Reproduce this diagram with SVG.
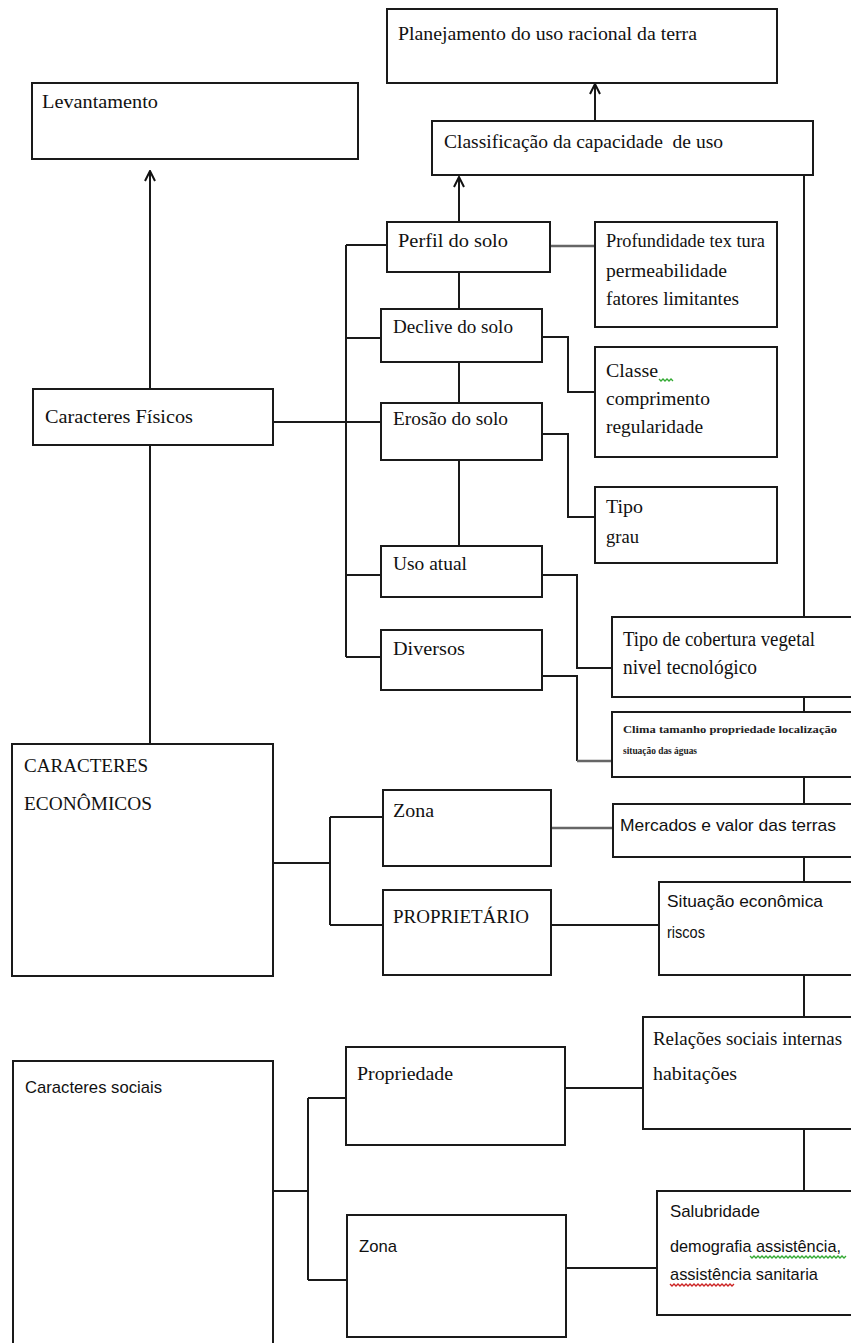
<svg xmlns="http://www.w3.org/2000/svg" width="851" height="1343" viewBox="0 0 851 1343">
<defs>
<marker id="arr" viewBox="0 0 12 12" refX="11" refY="6" markerWidth="12" markerHeight="12" markerUnits="userSpaceOnUse" orient="auto">
<path d="M1,1 L11,6 L1,11" fill="none" stroke="#111" stroke-width="2"/>
</marker>
<style>
.box{fill:#fff;stroke:#1a1a1a;stroke-width:2}
.ln{fill:none;stroke:#1a1a1a;stroke-width:2}
.gl{fill:none;stroke:#666;stroke-width:2.5}
.t{font-family:"Liberation Serif","DejaVu Serif",serif;font-size:19px;fill:#111}
.b{font-size:20px}
.s{font-family:"Liberation Sans","DejaVu Sans",sans-serif;font-size:17px;fill:#111}
.tiny{font-family:"Liberation Serif","DejaVu Serif",serif;font-size:11px;font-weight:bold;fill:#222}
.sq{fill:none;stroke-width:1.3}
</style>
</defs>
<rect width="851" height="1343" fill="#fff"/>

<g id="connectors">
<line class="ln" x1="595" y1="121" x2="595" y2="84" marker-end="url(#arr)"/>
<line class="ln" x1="459" y1="222" x2="459" y2="177" marker-end="url(#arr)"/>
<line class="ln" x1="150" y1="389" x2="150" y2="171" marker-end="url(#arr)"/>
<line class="ln" x1="150" y1="445" x2="150" y2="744"/>
<line class="ln" x1="273" y1="422" x2="381" y2="422"/>
<line class="ln" x1="346" y1="245" x2="346" y2="657"/>
<line class="ln" x1="346" y1="245" x2="387" y2="245"/>
<line class="ln" x1="346" y1="338" x2="381" y2="338"/>
<line class="ln" x1="346" y1="575" x2="381" y2="575"/>
<line class="ln" x1="346" y1="657" x2="381" y2="657"/>
<line class="ln" x1="459" y1="272" x2="459" y2="309"/>
<line class="ln" x1="459" y1="362" x2="459" y2="403"/>
<line class="ln" x1="459" y1="460" x2="459" y2="546"/>
<line class="gl" x1="550" y1="246" x2="595" y2="246"/>
<polyline class="ln" points="542,337 568,337 568,392 595,392"/>
<polyline class="ln" points="542,434 568,434 568,517 595,517"/>
<polyline class="ln" points="542,575 577,575 577,668 612,668"/>
<polyline class="ln" points="542,676 577,676 577,761"/>
<line class="gl" x1="577" y1="761" x2="612" y2="761"/>
<line class="ln" x1="804" y1="175" x2="804" y2="617"/>
<line class="ln" x1="804" y1="697" x2="804" y2="712"/>
<line class="ln" x1="804" y1="777" x2="804" y2="804"/>
<line class="ln" x1="804" y1="857" x2="804" y2="882"/>
<line class="ln" x1="804" y1="975" x2="804" y2="1017"/>
<line class="ln" x1="804" y1="1129" x2="804" y2="1191"/>
<line class="ln" x1="273" y1="863" x2="330" y2="863"/>
<line class="ln" x1="330" y1="817" x2="330" y2="925"/>
<line class="ln" x1="330" y1="817" x2="383" y2="817"/>
<line class="ln" x1="330" y1="925" x2="383" y2="925"/>
<line class="gl" x1="551" y1="828" x2="613" y2="828"/>
<line class="ln" x1="551" y1="925" x2="659" y2="925"/>
<line class="ln" x1="273" y1="1191" x2="308" y2="1191"/>
<line class="ln" x1="308" y1="1098" x2="308" y2="1280"/>
<line class="ln" x1="308" y1="1098" x2="346" y2="1098"/>
<line class="ln" x1="308" y1="1280" x2="347" y2="1280"/>
<line class="ln" x1="565" y1="1088" x2="643" y2="1088"/>
<line class="ln" x1="566" y1="1268" x2="657" y2="1268"/>
</g>

<g id="planejamento"><rect class="box" x="387" y="9" width="390" height="74"/><text class="t" x="398" y="40" textLength="299" lengthAdjust="spacingAndGlyphs">Planejamento do uso racional da terra</text></g>
<g id="classificacao"><rect class="box" x="432" y="121" width="381" height="54"/><text class="t" x="444" y="148" textLength="279" lengthAdjust="spacingAndGlyphs" xml:space="preserve">Classificação da capacidade  de uso</text></g>
<g id="levantamento"><rect class="box" x="32" y="83" width="326" height="76"/><text class="t" x="42" y="108" textLength="116" lengthAdjust="spacingAndGlyphs">Levantamento</text></g>
<g id="fisicos"><rect class="box" x="33" y="389" width="240" height="56"/><text class="t" x="45" y="423" textLength="148" lengthAdjust="spacingAndGlyphs">Caracteres Físicos</text></g>
<g id="perfil"><rect class="box" x="387" y="222" width="163" height="50"/><text class="t" x="398" y="247" textLength="110" lengthAdjust="spacingAndGlyphs">Perfil do solo</text></g>
<g id="profundidade"><rect class="box" x="595" y="222" width="182" height="105"/>
<text class="t" x="606" y="247" textLength="159" lengthAdjust="spacingAndGlyphs">Profundidade tex tura</text>
<text class="t" x="606" y="277" textLength="121" lengthAdjust="spacingAndGlyphs">permeabilidade</text>
<text class="t" x="606" y="305" textLength="133" lengthAdjust="spacingAndGlyphs">fatores limitantes</text></g>
<g id="declive"><rect class="box" x="381" y="309" width="161" height="53"/><text class="t" x="393" y="333" textLength="120" lengthAdjust="spacingAndGlyphs">Declive do solo</text></g>
<g id="classe"><rect class="box" x="595" y="347" width="182" height="110"/>
<text class="t" x="606" y="377" textLength="52" lengthAdjust="spacingAndGlyphs">Classe</text>
<path class="sq" stroke="#3a3" d="M659,379 l2,2 l2,-2 l2,2 l2,-2 l2,2 l2,-2 l2,2"/>
<text class="t" x="606" y="405" textLength="104" lengthAdjust="spacingAndGlyphs">comprimento</text>
<text class="t" x="606" y="433" textLength="97" lengthAdjust="spacingAndGlyphs">regularidade</text></g>
<g id="erosao"><rect class="box" x="381" y="403" width="161" height="57"/><text class="t" x="393" y="425" textLength="115" lengthAdjust="spacingAndGlyphs">Erosão do solo</text></g>
<g id="tipo"><rect class="box" x="595" y="487" width="182" height="76"/>
<text class="t" x="606" y="513" textLength="37" lengthAdjust="spacingAndGlyphs">Tipo</text>
<text class="t" x="606" y="543" textLength="33" lengthAdjust="spacingAndGlyphs">grau</text></g>
<g id="uso-atual"><rect class="box" x="381" y="546" width="161" height="51"/><text class="t" x="393" y="570" textLength="74" lengthAdjust="spacingAndGlyphs">Uso atual</text></g>
<g id="diversos"><rect class="box" x="381" y="630" width="161" height="60"/><text class="t" x="393" y="655" textLength="72" lengthAdjust="spacingAndGlyphs">Diversos</text></g>
<g id="cobertura"><rect class="box" x="612" y="617" width="260" height="80"/>
<text class="t b" x="623" y="646" textLength="192" lengthAdjust="spacingAndGlyphs">Tipo de cobertura vegetal</text>
<text class="t b" x="623" y="674" textLength="134" lengthAdjust="spacingAndGlyphs">nivel tecnológico</text></g>
<g id="clima"><rect class="box" x="612" y="712" width="260" height="65"/>
<text class="tiny" x="623" y="733" textLength="214" lengthAdjust="spacingAndGlyphs">Clima tamanho propriedade localização</text>
<text class="tiny" x="623" y="754" textLength="74" lengthAdjust="spacingAndGlyphs">situação das águas</text></g>
<g id="economicos"><rect class="box" x="12" y="744" width="261" height="232"/>
<text class="t" x="24" y="772" textLength="124" lengthAdjust="spacingAndGlyphs">CARACTERES</text>
<text class="t" x="24" y="810" textLength="128" lengthAdjust="spacingAndGlyphs">ECONÔMICOS</text></g>
<g id="zona-eco"><rect class="box" x="383" y="790" width="168" height="76"/><text class="t" x="393" y="817" textLength="41" lengthAdjust="spacingAndGlyphs">Zona</text></g>
<g id="mercados"><rect class="box" x="613" y="804" width="260" height="53"/><text class="s" x="620" y="831" textLength="216" lengthAdjust="spacingAndGlyphs">Mercados e valor das terras</text></g>
<g id="proprietario"><rect class="box" x="383" y="890" width="168" height="85"/><text class="t" x="393" y="923" textLength="136" lengthAdjust="spacingAndGlyphs">PROPRIETÁRIO</text></g>
<g id="situacao"><rect class="box" x="659" y="882" width="220" height="93"/>
<text class="s" x="667" y="907" textLength="156" lengthAdjust="spacingAndGlyphs">Situação econômica</text>
<text class="s" x="667" y="938" textLength="38" lengthAdjust="spacingAndGlyphs">riscos</text></g>
<g id="sociais"><rect class="box" x="13" y="1061" width="260" height="300"/><text class="s" x="25" y="1093" textLength="137" lengthAdjust="spacingAndGlyphs">Caracteres sociais</text></g>
<g id="propriedade"><rect class="box" x="346" y="1047" width="219" height="98"/><text class="t" x="357" y="1080" textLength="96" lengthAdjust="spacingAndGlyphs">Propriedade</text></g>
<g id="relacoes"><rect class="box" x="643" y="1017" width="230" height="112"/>
<text class="t" x="653" y="1045" textLength="189" lengthAdjust="spacingAndGlyphs">Relações sociais internas</text>
<text class="t" x="653" y="1080" textLength="84" lengthAdjust="spacingAndGlyphs">habitações</text></g>
<g id="zona-soc"><rect class="box" x="347" y="1215" width="219" height="122"/><text class="s" x="359" y="1252" textLength="38" lengthAdjust="spacingAndGlyphs">Zona</text></g>
<g id="salubridade"><rect class="box" x="657" y="1191" width="220" height="124"/>
<text class="s" x="670" y="1217" textLength="90" lengthAdjust="spacingAndGlyphs">Salubridade</text>
<text class="s" x="670" y="1252" textLength="171" lengthAdjust="spacingAndGlyphs">demografia assistência,</text>
<path class="sq" stroke="#3a3" d="M750,1256 l2,2 l2,-2 l2,2 l2,-2 l2,2 l2,-2 l2,2 l2,-2 l2,2 l2,-2 l2,2 l2,-2 l2,2 l2,-2 l2,2 l2,-2 l2,2 l2,-2 l2,2 l2,-2 l2,2 l2,-2 l2,2 l2,-2 l2,2 l2,-2 l2,2 l2,-2 l2,2 l2,-2 l2,2 l2,-2 l2,2 l2,-2 l2,2 l2,-2 l2,2 l2,-2 l2,2 l2,-2 l2,2 l2,-2 l2,2 l2,-2 l2,2 l2,-2 l2,2 l2,-2"/>
<text class="s" x="670" y="1280" textLength="148" lengthAdjust="spacingAndGlyphs">assistência sanitaria</text>
<path class="sq" stroke="#c22" d="M670,1284 l2,2 l2,-2 l2,2 l2,-2 l2,2 l2,-2 l2,2 l2,-2 l2,2 l2,-2 l2,2 l2,-2 l2,2 l2,-2 l2,2 l2,-2 l2,2 l2,-2 l2,2 l2,-2 l2,2 l2,-2 l2,2 l2,-2 l2,2 l2,-2 l2,2 l2,-2 l2,2 l2,-2 l2,2 l2,-2"/></g>
</svg>
